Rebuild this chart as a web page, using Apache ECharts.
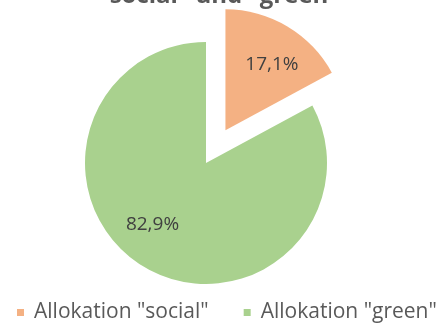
<!DOCTYPE html>
<html><head><meta charset="utf-8">
<script src="https://cdn.jsdelivr.net/npm/echarts@6/dist/echarts.min.js"></script>
<style>html,body{margin:0;padding:0;background:#fff}#c{width:438px;height:327px}</style>
</head><body><div id="c"></div>
<script>
const categories = ['Allokation "social"', 'Allokation "green"'];
const values = [17.1, 82.9];
const colors = ['#F4B183', '#A9D18E'];
const titleText = '"social" und "green"';

const chart = echarts.init(document.getElementById('c'));
const shifts = [[14, -11], [-21, 7]];
chart.setOption({
  animation: false,
  title: {
    text: titleText, left: 'center', top: -21,
    textStyle: { fontFamily: 'Open Sans', fontWeight: 'bold', fontSize: 24, color: '#595959' }
  },
  legend: {
    bottom: -1, left: 12, width: 430, itemWidth: 7, itemHeight: 7, itemGap: 35,
    icon: 'rect',
    textStyle: { fontFamily: 'Open Sans', fontSize: 21, color: '#595959', padding: [0, 0, 0, 5] },
    data: categories
  },
  series: [{
    type: 'pie', center: [206, 163], radius: 121,
    startAngle: 90, clockwise: true,
    selectedMode: 'single', selectedOffset: 38,
    label: { show: true, position: 'inside', fontFamily: 'Open Sans', fontSize: 19, color: '#404040',
      formatter: p => p.value.toFixed(1).replace('.', ',') + '%' },
    labelLine: { show: false },
    labelLayout: p => ({ dx: shifts[p.dataIndex][0], dy: shifts[p.dataIndex][1] }),
    emphasis: { disabled: true },
    data: categories.map((c, i) => ({
      name: c, value: values[i], selected: i === 0,
      itemStyle: { color: colors[i] }
    }))
  }]
});
</script></body></html>
